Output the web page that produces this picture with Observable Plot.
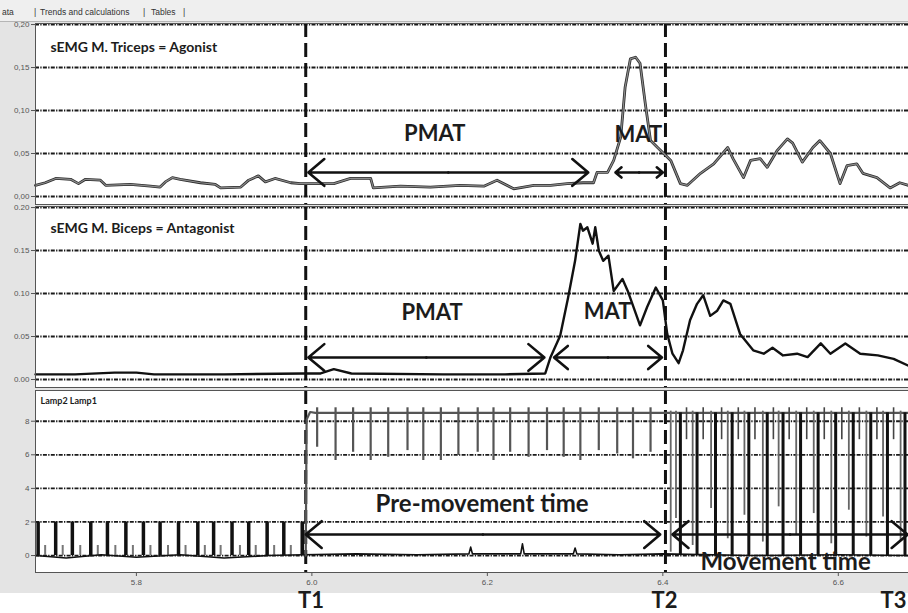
<!DOCTYPE html>
<html><head><meta charset="utf-8">
<script src="https://cdn.jsdelivr.net/npm/d3@7"></script>
<script src="https://cdn.jsdelivr.net/npm/@observablehq/plot@0.6"></script>
<style>
html,body{margin:0;padding:0;background:#fff;}
#wrap{position:relative;width:908px;height:613px;overflow:hidden;background:#fff;font-family:"Liberation Sans",sans-serif;}
#tabs{position:absolute;left:0;top:0;width:908px;height:21px;background:#efefef;border-bottom:1px solid #b5b5b5;font-size:8.5px;color:#333;z-index:5;}
#tabs span{position:absolute;top:7px;white-space:nowrap;}
.pane{position:absolute;left:0;}
</style></head><body>
<div id="wrap">
  <div id="tabs"><span style="left:2px">ata</span><span style="left:34px">|</span><span style="left:40px">Trends and calculations</span><span style="left:143px">|</span><span style="left:151px">Tables</span><span style="left:183px">|</span></div>
</div>
<script>
// ---------- data ----------
const timeDomain = [5.685, 6.68];
const emgTicks = [0, 0.05, 0.10, 0.15, 0.20];
const lampTicks = [0, 2, 4, 6, 8];
const timeTicks = [5.8, 6.0, 6.2, 6.4, 6.6];
const markerTimes = [5.993, 6.403];            // dashed T1, T2 lines
const markerNames = ["T1", "T2", "T3"];
const markerLabelTimes = [5.999, 6.402, 6.663];
const panelTitles = ["sEMG M. Triceps = Agonist", "sEMG M. Biceps = Antagonist", "Lamp2 Lamp1"];

const tricepsT = [5.685,5.696,5.708,5.725,5.734,5.742,5.759,5.765,5.793,5.816,5.827,5.833,5.841,5.850,5.873,5.890,5.896,5.919,5.928,5.939,5.947,5.958,5.976,5.987,6.025,6.044,6.067,6.070,6.101,6.135,6.169,6.196,6.211,6.230,6.253,6.272,6.291,6.309,6.321,6.325,6.337,6.344,6.352,6.357,6.363,6.369,6.374,6.380,6.386,6.394,6.401,6.409,6.420,6.428,6.443,6.458,6.474,6.480,6.492,6.500,6.511,6.519,6.530,6.542,6.548,6.559,6.571,6.579,6.591,6.602,6.610,6.621,6.628,6.644,6.659,6.670,6.680];
const tricepsV = [0.013,0.016,0.021,0.020,0.015,0.020,0.019,0.013,0.014,0.012,0.011,0.017,0.022,0.020,0.016,0.014,0.010,0.011,0.019,0.024,0.017,0.021,0.016,0.015,0.015,0.021,0.021,0.010,0.012,0.011,0.013,0.012,0.019,0.009,0.013,0.013,0.015,0.016,0.016,0.028,0.028,0.042,0.069,0.127,0.160,0.162,0.155,0.108,0.065,0.057,0.050,0.042,0.015,0.013,0.027,0.038,0.057,0.044,0.022,0.042,0.044,0.034,0.053,0.067,0.062,0.040,0.057,0.065,0.050,0.015,0.036,0.038,0.027,0.022,0.010,0.016,0.013];

const bicepsT = [5.685,5.730,5.775,5.800,5.820,5.900,5.990,6.010,6.025,6.045,6.150,6.220,6.266,6.272,6.283,6.292,6.300,6.306,6.309,6.314,6.320,6.323,6.327,6.332,6.338,6.344,6.354,6.360,6.374,6.382,6.392,6.400,6.405,6.411,6.418,6.423,6.431,6.439,6.446,6.454,6.462,6.469,6.477,6.488,6.503,6.515,6.525,6.537,6.553,6.565,6.580,6.591,6.608,6.625,6.645,6.663,6.680];
const bicepsV = [0.006,0.006,0.008,0.008,0.006,0.006,0.007,0.007,0.012,0.007,0.006,0.006,0.007,0.026,0.051,0.095,0.138,0.181,0.173,0.177,0.158,0.177,0.150,0.138,0.144,0.103,0.117,0.103,0.063,0.084,0.107,0.092,0.053,0.030,0.019,0.034,0.069,0.088,0.098,0.074,0.080,0.092,0.088,0.053,0.034,0.030,0.037,0.028,0.030,0.026,0.042,0.030,0.042,0.030,0.028,0.024,0.016];

// Lamp signals
const lampPreT = [5.688,5.708,5.727,5.748,5.767,5.788,5.808,5.827,5.848,5.870,5.888,5.909,5.928,5.949,5.968,5.989];
const lampPreBumpT = [5.696,5.716,5.736,5.756,5.776,5.796,5.816,5.836,5.856,5.878,5.896,5.918,5.936,5.957,5.976];
const lampOnSpikeT = [6.006,6.027,6.047,6.067,6.087,6.109,6.127,6.147,6.167,6.189,6.207,6.226,6.247,6.268,6.287,6.306,6.327,6.348,6.366,6.386];
const lampOnSpikeLow = [6.45,5.66,6.15,5.66,5.85,6.25,5.66,5.66,5.96,6.15,5.66,6.15,5.85,6.25,5.85,5.66,6.25,6.05,5.76,6.15];
const lampMoveT = [6.420,6.439,6.460,6.479,6.498,6.519,6.537,6.557,6.577,6.597,6.617,6.637,6.656,6.676];
const lampMoveGrayT = [6.409,6.415,6.434,6.455,6.474,6.493,6.514,6.532,6.552,6.572,6.592,6.612,6.632,6.651,6.671];
const lampMoveGrayLow = [0.2,2.2,0.6,2.8,1.0,2.4,0.8,2.9,1.2,2.5,0.7,2.7,1.1,2.3,0.9];
const lampMoveCombT = [6.427,6.446,6.467,6.486,6.505,6.526,6.544,6.564,6.584,6.604,6.624,6.644,6.663];
const lamp1T = [5.993,5.994,5.998,6.004,6.400,6.680];
const lamp1V = [0.0,8.1,8.55,8.5,8.5,8.5];
const lamp2T = [5.685,5.720,5.760,5.800,5.850,5.900,5.950,5.990,6.050,6.120,6.179,6.181,6.183,6.238,6.240,6.242,6.298,6.300,6.302,6.350,6.400,6.500,6.600,6.680];
const lamp2V = [0.0,-0.15,0.05,-0.1,0.05,-0.15,0.0,0.05,0.1,0.05,0.1,0.5,0.1,0.1,0.7,0.1,0.1,0.45,0.1,0.05,0.1,0.0,0.05,0.0];

// annotations
const triArrowFrom = [5.996, 6.346], triArrowTo = [6.315, 6.400], triArrowV = 0.028;
const triLabels = ["PMAT", "MAT"], triLabelT = [6.140, 6.372], triLabelV = [0.073, 0.072];
const bicArrowFrom = [5.996, 6.276], bicArrowTo = [6.265, 6.399], bicArrowV = 0.0256;
const bicLabels = ["PMAT", "MAT"], bicLabelT = [6.137, 6.337], bicLabelV = [0.077, 0.078];
const lampArrowFrom = [5.993, 6.411], lampArrowTo = [6.397, 6.679], lampArrowV = 1.25;
const lampLabels = ["Pre-movement time", "Movement time"], lampLabelT = [6.194, 6.540], lampLabelV = [3.04, -0.42];

// ---------- helpers ----------
const zip = (T, V) => T.map((t, i) => ({t, v: V[i]}));
function arrowRows(from, to, v) {
  const rows = [];
  from.forEach((f, i) => {
    const m = (f + to[i]) / 2;
    rows.push({x1: m, x2: f, y: v}, {x1: m, x2: to[i], y: v});
  });
  return rows;
}
const labelFont = {fontFamily: "Lato, 'Open Sans', sans-serif", fontWeight: "bold", fill: "#1c1c1c"};
const gridStyle = {stroke: "#1a1a1a", strokeWidth: 1.8, strokeDasharray: "4,1.3,1.3,1.3"};
const baseStyle = {background: "#e4e4e4", fontFamily: "'Liberation Sans', sans-serif", fontSize: "8px", color: "#555", overflow: "hidden"};

function commonMarks(ticks, fmt) {
  return [
    Plot.frame({fill: "white"}),
    Plot.axisY(ticks, {tickFormat: fmt, tickSize: 4, tickPadding: 2, label: null, fontSize: 8}),
    Plot.ruleY(ticks, gridStyle),
    Plot.ruleX(markerTimes, {x: d => d, stroke: "#111", strokeWidth: 3, strokeDasharray: "14,6"})
  ];
}
function arrowsAndLabels(from, to, v, labels, lt, lv, size) {
  return [
    Plot.arrow(arrowRows(from, to, v), {x1: "x1", x2: "x2", y1: "y", y2: "y", stroke: "#111", strokeWidth: 2.6, headLength: 12, headAngle: 80}),
    Plot.text(labels, {x: (d, i) => lt[i], y: (d, i) => lv[i], text: d => d, fontSize: size, ...labelFont})
  ];
}
function titleMark(txt, size, dy, dx) {
  return Plot.text([txt], {text: d => d, frameAnchor: "top-left", textAnchor: "start", lineAnchor: "middle", dx, dy, fontSize: size, ...labelFont});
}

const wrap = document.getElementById("wrap");
function place(svg, top) {
  svg.classList.add("pane");
  svg.style.top = top + "px";
  svg.style.position = "absolute";
  wrap.appendChild(svg);
}

// ---------- panel 1: triceps ----------
const tri = zip(tricepsT, tricepsV);
const p1 = Plot.plot({
  width: 908, height: 183, marginLeft: 35, marginRight: 0, marginTop: 1, marginBottom: 1,
  x: {domain: timeDomain, axis: null},
  y: {domain: [-0.0093, 0.2012]},
  style: baseStyle,
  marks: [
    ...commonMarks(emgTicks, d => d.toFixed(2).replace(".", ",")),
    Plot.line(tri, {x: "t", y: "v", stroke: "#2c2c2c", strokeWidth: 2.8}),
    Plot.line(tri, {x: "t", y: "v", stroke: "#8c8c8c", strokeWidth: 1.2}),
    ...arrowsAndLabels(triArrowFrom, triArrowTo, triArrowV, triLabels, triLabelT, triLabelV, 22),
    titleMark(panelTitles[0], 14, 24, 15),
    Plot.frame({stroke: "#555"})
  ]
});
place(p1, 22);

// ---------- panel 2: biceps ----------
const bic = zip(bicepsT, bicepsV);
const p2 = Plot.plot({
  width: 908, height: 183, marginLeft: 35, marginRight: 0, marginTop: 1, marginBottom: 1,
  x: {domain: timeDomain, axis: null},
  y: {domain: [-0.0093, 0.2012]},
  style: baseStyle,
  marks: [
    ...commonMarks(emgTicks, d => d.toFixed(2)),
    Plot.line(bic, {x: "t", y: "v", stroke: "#111", strokeWidth: 2.4}),
    ...arrowsAndLabels(bicArrowFrom, bicArrowTo, bicArrowV, bicLabels, bicLabelT, bicLabelV, 22),
    titleMark(panelTitles[1], 14, 22, 15),
    Plot.frame({stroke: "#555"})
  ]
});
place(p2, 205);

// ---------- panel 3: lamps ----------
const p3 = Plot.plot({
  width: 908, height: 205, marginLeft: 35, marginRight: 0, marginTop: 2, marginBottom: 21,
  x: {domain: timeDomain},
  y: {domain: [-1.01, 9.83]},
  style: baseStyle,
  marks: [
    ...commonMarks(lampTicks, d => String(d)),
    Plot.axisX(timeTicks, {tickFormat: d => d.toFixed(1), tickSize: 4, tickPadding: 3, label: null, fontSize: 8}),
    // before T1: pulses 0-2
    Plot.ruleX(lampPreBumpT, {x: d => d, y1: 0, y2: 0.6, stroke: "#777", strokeWidth: 2}),
    Plot.ruleX(lampPreT, {x: d => d, y1: 0, y2: 2, stroke: "#111", strokeWidth: 3.5}),
    // Lamp2 baseline
    Plot.line(zip(lamp2T, lamp2V), {x: "t", y: "v", stroke: "#111", strokeWidth: 1.6}),
    // Lamp1 on
    Plot.line(zip(lamp1T, lamp1V), {x: "t", y: "v", stroke: "#555", strokeWidth: 2.2}),
    Plot.ruleX(lampOnSpikeT, {x: d => d, y1: (d, i) => lampOnSpikeLow[i], y2: 8.8, stroke: "#555", strokeWidth: 2.2}),
    // movement phase
    Plot.ruleX(lampMoveCombT, {x: d => d, y1: 6.9, y2: 8.8, stroke: "#444", strokeWidth: 1.6}),
    Plot.ruleX(lampMoveGrayT, {x: d => d, y1: (d, i) => lampMoveGrayLow[i], y2: 8.6, stroke: "#666", strokeWidth: 1.8}),
    Plot.ruleX(lampMoveT, {x: d => d, y1: 0, y2: 8.5, stroke: "#111", strokeWidth: 3}),
    ...arrowsAndLabels(lampArrowFrom, lampArrowTo, lampArrowV, lampLabels, lampLabelT, lampLabelV, 24),
    titleMark(panelTitles[2], 9, 11, 5),
    Plot.frame({stroke: "#555"})
  ]
});
place(p3, 388);

// ---------- T labels ----------
const p4 = Plot.plot({
  width: 908, height: 20, marginLeft: 35, marginRight: 0, marginTop: 0, marginBottom: 0,
  x: {domain: timeDomain, axis: null},
  style: {background: "white", overflow: "visible"},
  marks: [
    Plot.text(markerNames, {x: (d, i) => markerLabelTimes[i], text: d => d, frameAnchor: "middle", dy: -3, fontSize: 22, ...labelFont})
  ]
});
place(p4, 593);
</script>
</body></html>
